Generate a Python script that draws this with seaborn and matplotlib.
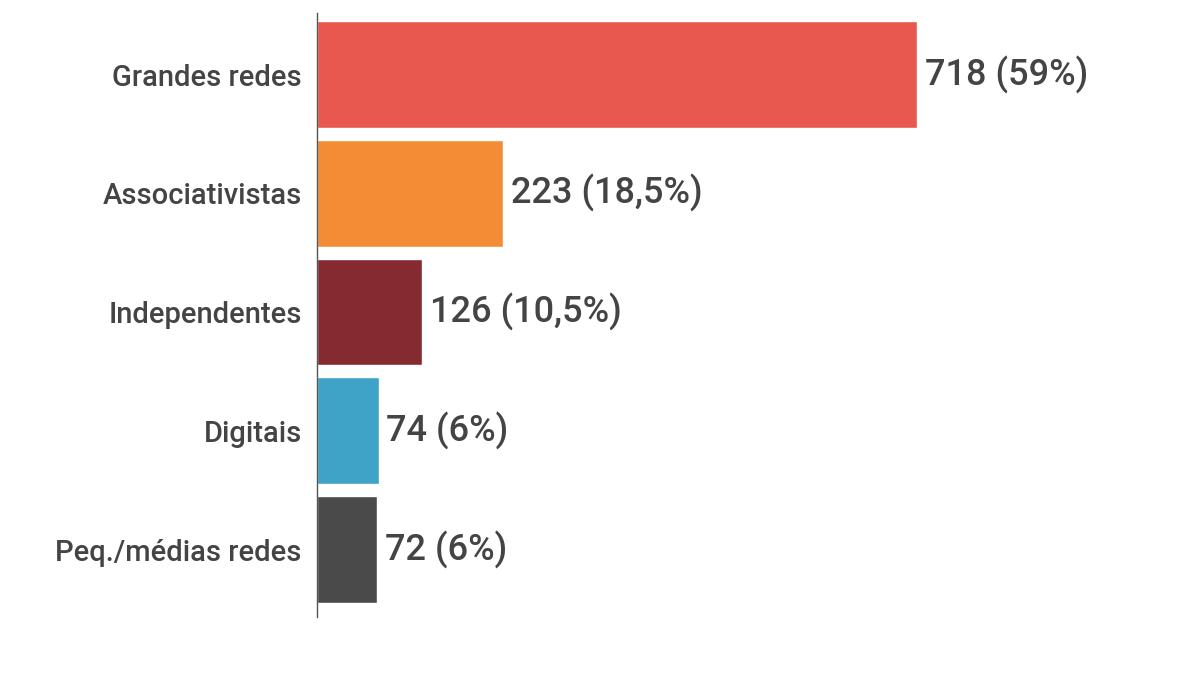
import pandas as pd
import matplotlib.pyplot as plt
import seaborn as sns

# Data
categories = ["Grandes redes", "Associativistas", "Independentes", "Digitais", "Peq./médias redes"]
values = [718, 223, 126, 74, 72]
labels = ["718 (59%)", "223 (18,5%)", "126 (10,5%)", "74 (6%)", "72 (6%)"]
colors = ["#E8584F", "#F28C35", "#862A32", "#3FA2C7", "#4A4A4A"]

df = pd.DataFrame({"categoria": categories, "total": values})

sns.set_style("white")
plt.rcParams["font.family"] = ["Roboto", "DejaVu Sans"]

fig = plt.figure(figsize=(12, 6.75), dpi=100)
ax = fig.add_axes([0.2642, 0.0859, 0.6667, 0.8948])

sns.barplot(data=df, y="categoria", x="total", hue="categoria",
            palette=colors, legend=False, width=0.9, saturation=1, ax=ax)

for bar, lab in zip(ax.patches, labels):
    ax.text(bar.get_width() + 9, bar.get_y() + bar.get_height() / 2, lab,
            va="center", ha="left", fontsize=26, color="#444444",
            fontweight="medium")

ax.set_xlim(0, 957)
ax.set_ylim(4.568, -0.518)
ax.set_xlabel("")
ax.set_ylabel("")
ax.set_xticks([])
ax.tick_params(axis="y", length=0, pad=11, labelsize=21, labelcolor="#444444")
for t in ax.get_yticklabels():
    t.set_fontweight("medium")
for side in ["top", "right", "bottom"]:
    ax.spines[side].set_visible(False)
ax.spines["left"].set_color("#555555")
ax.spines["left"].set_linewidth(1)

fig.savefig("out.png", dpi=100)
